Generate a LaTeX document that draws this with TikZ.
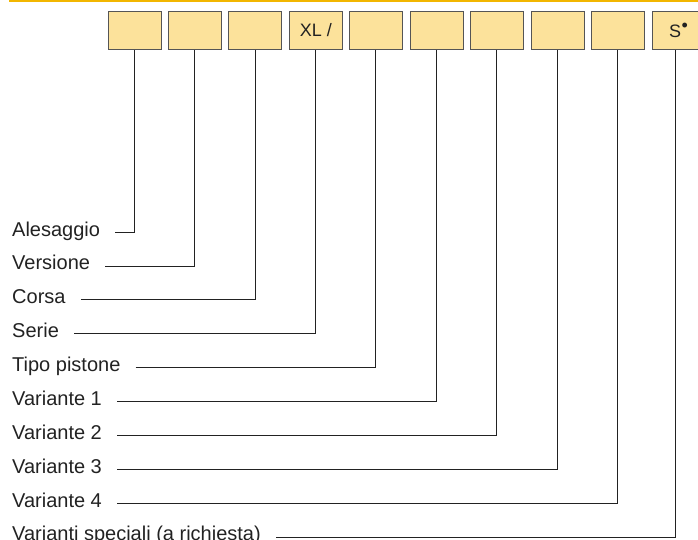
\documentclass[tikz,border=0pt]{standalone}
\usepackage{fontspec}
\setmainfont{Liberation Sans}
\usetikzlibrary{positioning, calc}
\definecolor{codeyellow}{HTML}{FCE29B}
\definecolor{rulegold}{HTML}{F2B600}
\definecolor{framegray}{HTML}{555555}
\definecolor{inkgray}{HTML}{222222}

\begin{document}
\begin{tikzpicture}[x=1pt, y=-1pt,
  every node/.style={font=\fontsize{20}{24}\selectfont, text=inkgray},
  codebox/.style={rectangle, draw=framegray, fill=codeyellow, line width=0.9pt, minimum width=53pt, minimum height=37.5pt, inner sep=0pt, font=\fontsize{18}{20}\selectfont},
  field/.style={anchor=base west, inner xsep=0pt, inner ysep=2pt},
  leader/.style={draw=inkgray, line width=0.8pt},
]
\clip (0,0) rectangle (698,540);
\draw[rulegold, line width=1.6pt] (9,0.8) -- (698,0.8);

% Code boxes
\node[codebox] (b1) at (134.5, 30.5) {};
\node[codebox] (b2) at (195.0, 30.5) {};
\node[codebox] (b3) at (255.4, 30.5) {};
\node[codebox] (b4) at (315.9, 30.5) {XL /};
\node[codebox] (b5) at (376.3, 30.5) {};
\node[codebox] (b6) at (436.8, 30.5) {};
\node[codebox] (b7) at (497.3, 30.5) {};
\node[codebox] (b8) at (557.7, 30.5) {};
\node[codebox] (b9) at (618.2, 30.5) {};
\node[codebox] (b10) at (678.6, 30.5) {S\kern0.5pt\raisebox{0.33em}{•}};

% Fields
\node[field] (f1) at (12, 236.0) {Alesaggio};
\node[field] (f2) at (12, 269.9) {Versione};
\node[field] (f3) at (12, 303.8) {Corsa};
\node[field] (f4) at (12, 337.7) {Serie};
\node[field] (f5) at (12, 371.6) {Tipo pistone};
\node[field] (f6) at (12, 405.5) {Variante 1};
\node[field] (f7) at (12, 439.4) {Variante 2};
\node[field] (f8) at (12, 473.3) {Variante 3};
\node[field] (f9) at (12, 507.2) {Variante 4};
\node[field] (f10) at (12, 540.0) {Varianti speciali (a richiesta)};

% Leaders
\draw[leader] ([xshift=15pt, yshift=4pt]f1.base east) -| ([xshift=-0.5pt]b1.south);
\draw[leader] ([xshift=15pt, yshift=4pt]f2.base east) -| ([xshift=-0.5pt]b2.south);
\draw[leader] ([xshift=15pt, yshift=4pt]f3.base east) -| ([xshift=-0.5pt]b3.south);
\draw[leader] ([xshift=15pt, yshift=4pt]f4.base east) -| ([xshift=-0.5pt]b4.south);
\draw[leader] ([xshift=15pt, yshift=4pt]f5.base east) -| ([xshift=-0.5pt]b5.south);
\draw[leader] ([xshift=15pt, yshift=4pt]f6.base east) -| ([xshift=-0.5pt]b6.south);
\draw[leader] ([xshift=15pt, yshift=4pt]f7.base east) -| ([xshift=-0.5pt]b7.south);
\draw[leader] ([xshift=15pt, yshift=4pt]f8.base east) -| ([xshift=-0.5pt]b8.south);
\draw[leader] ([xshift=15pt, yshift=4pt]f9.base east) -| ([xshift=-0.5pt]b9.south);
\draw[leader] ([xshift=15pt, yshift=3pt]f10.base east) -| ([xshift=-3pt]b10.south);

\end{tikzpicture}
\end{document}
